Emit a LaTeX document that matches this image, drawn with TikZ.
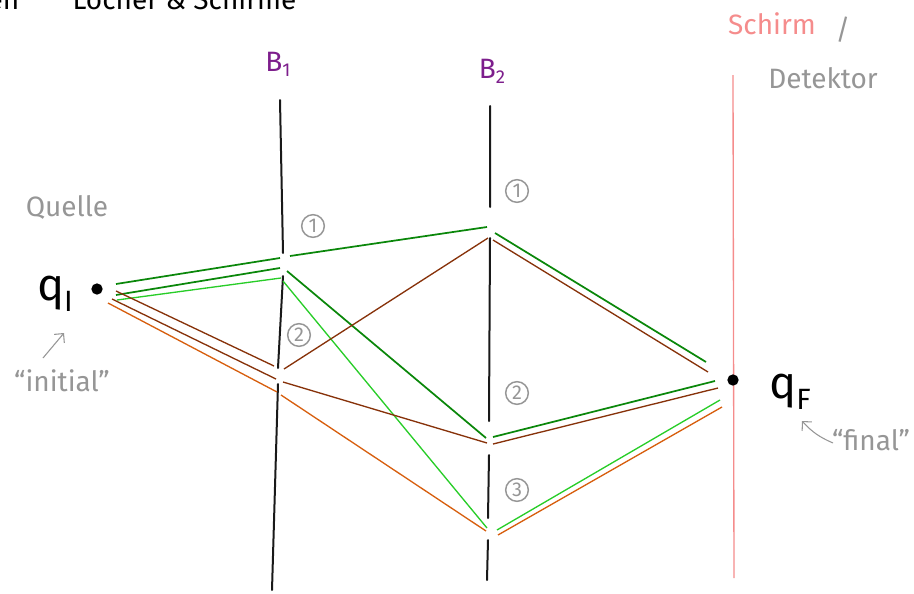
\documentclass[tikz,border=0pt]{standalone}
\usepackage{fontspec}
\setsansfont{Fira Sans}
\usetikzlibrary{arrows.meta}
\definecolor{WallBlack}{RGB}{25,25,25}
\definecolor{ScreenPink}{RGB}{245,140,140}
\definecolor{NoteGray}{RGB}{150,150,150}
\definecolor{BPurple}{RGB}{125,30,140}
\definecolor{PathDkGreen}{RGB}{10,135,10}
\definecolor{PathLtGreen}{RGB}{40,205,40}
\definecolor{PathBrown}{RGB}{135,50,10}
\definecolor{PathOrange}{RGB}{215,95,15}

\begin{document}
\begin{tikzpicture}[
        x=0.75pt,y=-0.75pt,
        every node/.style={font=\sffamily\fontsize{21}{24}\selectfont},
        wall/.style={draw=WallBlack,line width=1.5pt,line cap=round},
        screen/.style={draw=ScreenPink,line width=1pt},
        note/.style={text=NoteGray},
        slitNum/.style={circle,draw=NoteGray,line width=1.1pt,text=NoteGray,inner sep=0pt,minimum size=17pt,font=\sffamily\fontsize{15}{16}\selectfont},
        dot/.style={circle,fill=black,inner sep=0pt,minimum size=8.5pt},
        bigLab/.style={font=\sffamily\fontsize{34}{38}\selectfont},
        pDG/.style={draw=PathDkGreen,line width=1.3pt},
        pLG/.style={draw=PathLtGreen,line width=1pt},
        pBR/.style={draw=PathBrown,line width=1pt},
        pOR/.style={draw=PathOrange,line width=1pt},
        hint/.style={draw=NoteGray,line width=0.8pt,-{Straight Barb[length=5pt]}}]
        \useasboundingbox (0,0) rectangle (914,593);
        % clipped heading
        \node[anchor=base east] (titlePre) at (24,9) {Blenden};
        \node[anchor=base west] (title) at (68,9) {Löcher \& Schirme};
        % walls and screen
        \draw[wall] (280,100) -- (283,253) (283,276) -- (278,368) (278,384) -- (272,590);
        \draw[wall] (490,106) -- (490,207) (490,238) -- (489,421) (489,455) -- (488,518) (488,540) -- (487,580);
        \draw[screen] (733,75) -- (734,578);
        \node[text=BPurple] (B1) at (278,64) {B\raisebox{-0.35ex}{\fontsize{14}{16}\selectfont 1}};
        \node[text=BPurple] (B2) at (492,71) {B\raisebox{-0.35ex}{\fontsize{14}{16}\selectfont 2}};
        \node[text=ScreenPink] (schirm) at (772,24) {Schirm};
        \node[note] (slash) at (843,30) {/};
        \node[note] (detektor) at (823,78) {Detektor};
        % slit numbers
        \node[slitNum] (n11) at (313,226) {1};
        \node[slitNum] (n12) at (299,335) {2};
        \node[slitNum] (n21) at (517,191) {1};
        \node[slitNum] (n22) at (517,393) {2};
        \node[slitNum] (n23) at (517,490) {3};
        % source and final point
        \node[dot] (qI) at (97,289) {};
        \node[dot] (qF) at (733,380) {};
        \node[bigLab] (qIlab) at (55,294) {q\raisebox{-0.45ex}{\fontsize{22}{24}\selectfont I}};
        \node[bigLab] (qFlab) at (790,392) {q\raisebox{-0.45ex}{\fontsize{22}{24}\selectfont F}};
        \node[note] (quelle) at (67,207) {Quelle};
        \node[note] (initial) at (62,381) {“initial”};
        \node[note] (final) at (871,440) {“final”};
        \coordinate (iTail) at (43,358);
        \coordinate (iTip) at (64,333);
        \coordinate (fTail) at (833,443);
        \coordinate (fTip) at (802,421);
        \draw[hint] (iTail) -- (iTip);
        \draw[hint] (fTail) to[bend left=12] (fTip);
        % path points
        \coordinate (dg0) at (116,284); \coordinate (dg1) at (280,258); \coordinate (dg2) at (290,256);
        \coordinate (dg3) at (487,227); \coordinate (dg4) at (495,233); \coordinate (dg5) at (706,362);
        \coordinate (dh0) at (116,295); \coordinate (dh1) at (280,268); \coordinate (dh2) at (287,271);
        \coordinate (dh3) at (486,438); \coordinate (dh4) at (493,437); \coordinate (dh5) at (715,381);
        \coordinate (lg0) at (117,300); \coordinate (lg1) at (281,278); \coordinate (lg2) at (283,281);
        \coordinate (lg3) at (487,528); \coordinate (lg4) at (497,530); \coordinate (lg5) at (720,400);
        \coordinate (br0) at (116,291); \coordinate (br1) at (274,366); \coordinate (br2) at (284,369);
        \coordinate (br3) at (488,238); \coordinate (br4) at (493,240); \coordinate (br5) at (708,372);
        \coordinate (bs0) at (112,299); \coordinate (bs1) at (276,379); \coordinate (bs2) at (283,382);
        \coordinate (bs3) at (487,443); \coordinate (bs4) at (493,444); \coordinate (bs5) at (718,388);
        \coordinate (or0) at (108,303); \coordinate (or1) at (277,392); \coordinate (or2) at (281,395);
        \coordinate (or3) at (486,531); \coordinate (or4) at (498,535); \coordinate (or5) at (722,407);
        % paths
        \draw[pDG] (dg0)--(dg1) (dg2)--(dg3) (dg4)--(dg5);
        \draw[pDG] (dh0)--(dh1) (dh2)--(dh3) (dh4)--(dh5);
        \draw[pLG] (lg0)--(lg1) (lg2)--(lg3) (lg4)--(lg5);
        \draw[pBR] (br0)--(br1) (br2)--(br3) (br4)--(br5);
        \draw[pBR] (bs0)--(bs1) (bs2)--(bs3) (bs4)--(bs5);
        \draw[pOR] (or0)--(or1) (or2)--(or3) (or4)--(or5);
      \end{tikzpicture}
\end{document}
